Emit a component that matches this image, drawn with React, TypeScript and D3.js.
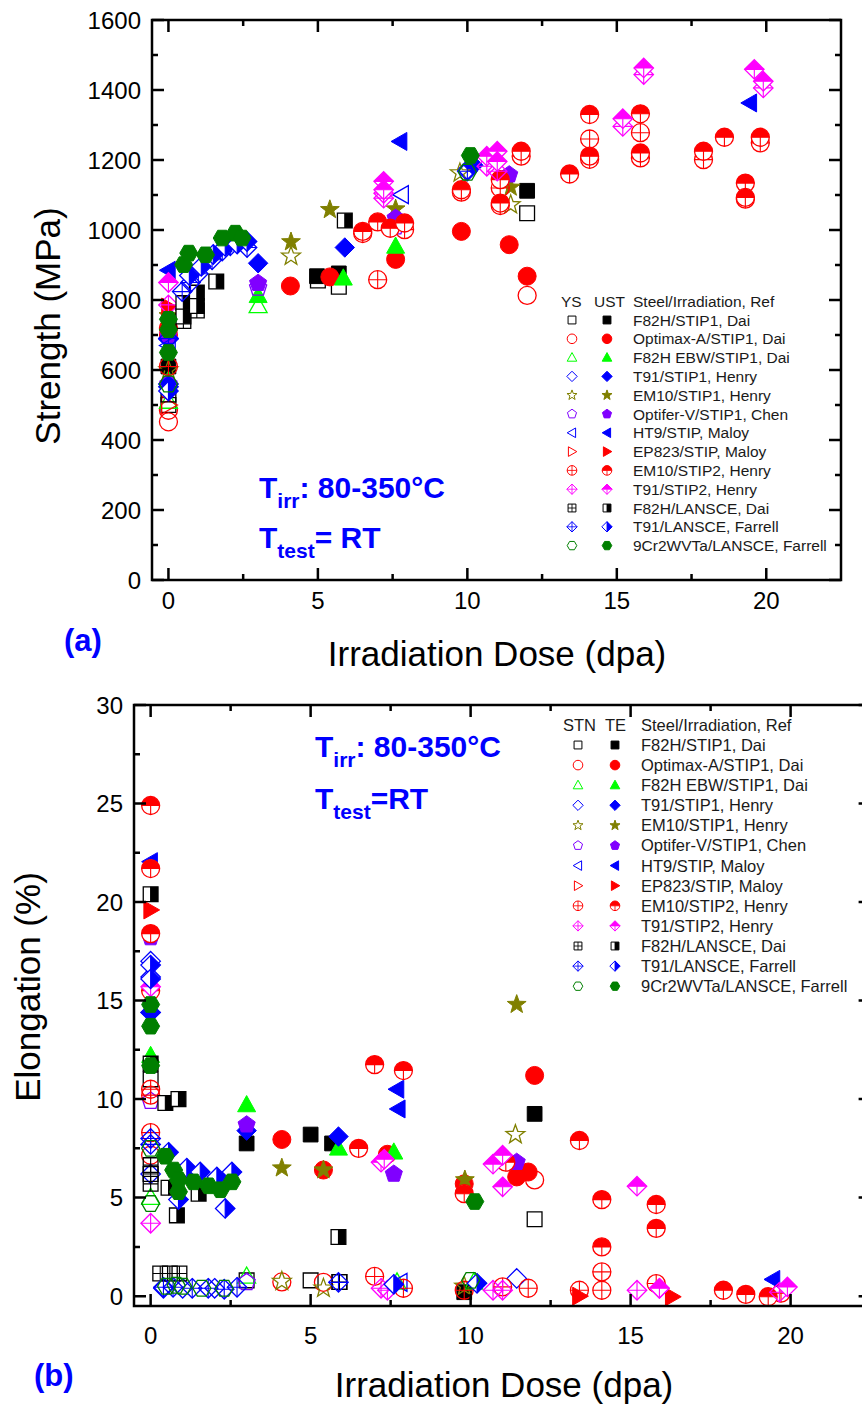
import * as d3 from "d3";

type Pt = [number, number];

// ---- panel (a): yield stress (YS) and ultimate strength (UST), MPa vs dose (dpa)
const ysF82H: Pt[] = [[0, 500], [5.0, 856], [5.7, 838], [12.0, 1048]];
const ustF82H: Pt[] = [[0, 610], [4.97, 868], [5.7, 876], [12.0, 1112]];
const ysOptimax: Pt[] = [[0, 452], [0, 485], [12.0, 813]];
const ustOptimax: Pt[] = [[0, 700], [4.08, 840], [5.4, 866], [7.6, 916], [9.8, 996], [11.4, 958], [12.0, 868]];
const ysEBW: Pt[] = [[0, 510], [3.0, 783]];
const ustEBW: Pt[] = [[0, 570], [3.0, 812], [5.85, 862], [7.6, 953]];
const ysT91: Pt[] = [[0, 560], [0, 690], [10.0, 1172]];
const ustT91: Pt[] = [[0, 560], [0, 688], [3.0, 905], [5.9, 950], [10.2, 1185]];
const ysEM10: Pt[] = [[0, 600], [4.1, 925], [9.75, 1163], [11.45, 1072]];
const ustEM10: Pt[] = [[0, 755], [4.1, 966], [5.4, 1058], [7.6, 1060], [11.45, 1122]];
const ysOptifer: Pt[] = [[0, 560], [3.0, 835], [7.6, 1010]];
const ustOptifer: Pt[] = [[0, 700], [3.0, 848], [7.6, 1034], [11.4, 1158]];
const ysHT9: Pt[] = [[0, 670], [7.8, 1101]];
const ustHT9: Pt[] = [[0, 885], [7.75, 1253], [19.45, 1363]];
const ysEP823: Pt[] = [[0, 500]];
const ustEP823: Pt[] = [[0, 780]];
const ysEM10b: Pt[] = [[0, 610], [6.5, 990], [7.0, 858], [7.9, 1001], [9.8, 1108], [11.1, 1070], [11.1, 1120], [11.8, 1211],
  [14.09, 1260], [14.09, 1202], [15.79, 1278], [15.79, 1206], [17.9, 1201], [19.3, 1088], [19.8, 1249]];
const ustEM10b: Pt[] = [[0, 720], [6.5, 996], [7.0, 1023], [7.42, 1005], [7.9, 1020], [9.8, 1115], [11.1, 1144], [11.1, 1077],
  [11.8, 1225], [13.42, 1160], [14.09, 1330], [14.09, 1211], [15.79, 1332], [15.79, 1220], [17.9, 1225], [18.6, 1265],
  [19.3, 1134], [19.3, 1093], [19.8, 1265]];
const ysT91b: Pt[] = [[0, 786], [7.2, 1091], [7.2, 1105], [10.65, 1182], [11.0, 1168], [15.2, 1296], [15.9, 1444], [19.9, 1406]];
const ustT91b: Pt[] = [[0, 850], [7.2, 1139], [7.2, 1115], [10.65, 1211], [11.0, 1225], [11.0, 1196], [15.2, 1318],
  [15.9, 1463], [19.6, 1459], [19.9, 1425]];
const ysF82HL: Pt[] = [[0, 530], [0.5, 740], [0.95, 770]];
const ustF82HL: Pt[] = [[0.5, 791], [0.5, 753], [0.95, 821], [0.95, 783], [1.6, 853], [5.9, 1027]];
const ysT91L: Pt[] = [[0, 552], [0, 690], [0.46, 824], [0.74, 850], [1.0, 875], [1.46, 915], [1.8, 940], [2.07, 955],
  [2.63, 950], [10.0, 1168]];
const ustT91L: Pt[] = [[0, 540], [0.7, 870], [1.1, 896], [1.5, 930], [1.9, 953], [2.3, 960], [2.63, 967]];
const ys9Cr: Pt[] = [[0, 560], [10.0, 1165]];
const ust9Cr: Pt[] = [[0, 650], [0, 715], [0, 745], [0.51, 901], [0.68, 934], [1.24, 929], [1.8, 977], [2.24, 991],
  [2.46, 977], [10.1, 1213]];

// ---- panel (b): strain to necking (STN) and total elongation (TE), % vs dose (dpa)
const stnF82H: Pt[] = [[0, 11.0], [3.0, 0.8], [5.0, 0.8], [5.9, 0.72], [12.0, 3.9]];
const teF82H: Pt[] = [[3.0, 7.75], [5.0, 8.2], [5.67, 7.75], [9.8, 0.2], [12.0, 9.25]];
const stnOptimax: Pt[] = [[0, 7.15], [4.1, 0.72], [5.4, 0.7], [12.0, 5.9]];
const teOptimax: Pt[] = [[4.1, 7.95], [5.4, 6.4], [7.4, 7.2], [9.8, 5.7], [11.44, 6.05], [11.8, 6.3], [12.0, 11.2]];
const stnEBW: Pt[] = [[0, 5.0], [3.0, 1.0], [7.7, 0.7], [10.1, 0.7]];
const teEBW: Pt[] = [[0, 12.2], [3.0, 9.7], [5.87, 7.5], [7.6, 7.3]];
const stnT91: Pt[] = [[0, 17.0], [0, 16.2], [0, 6.2], [0.4, 0.4], [1.0, 0.4], [2.0, 0.4], [11.44, 0.9]];
const teT91: Pt[] = [[0, 14.4], [3.0, 8.4], [5.87, 8.1]];
const stnEM10: Pt[] = [[4.1, 0.75], [5.4, 0.4], [9.8, 0.5], [11.4, 8.2]];
const teEM10: Pt[] = [[4.1, 6.5], [5.4, 6.4], [9.82, 5.9], [11.44, 14.8]];
const stnOptifer: Pt[] = [[0, 9.9], [3.0, 0.7]];
const teOptifer: Pt[] = [[0, 18.2], [3.0, 8.7], [7.6, 6.2], [11.44, 6.8]];
const stnHT9: Pt[] = [[7.8, 0.7]];
const teHT9: Pt[] = [[0, 22.05], [7.7, 10.5], [7.74, 9.5], [19.45, 0.85]];
const stnEP823: Pt[] = [];
const teEP823: Pt[] = [[0, 19.6], [13.4, 0.0], [16.3, -0.03]];
const stnEM10b: Pt[] = [[0, 10.5], [0, 10.2], [0, 8.3], [7.0, 1.0], [7.9, 0.4], [9.8, 0.3], [11.0, 0.47], [11.8, 0.4],
  [13.4, 0.3], [14.1, 1.23], [14.1, 0.3], [15.8, 0.64], [19.7, 0.15]];
const teEM10b: Pt[] = [[0, 24.9], [0, 21.7], [0, 18.4], [0, 15.5], [6.5, 7.5], [7.0, 11.75], [7.9, 11.45], [9.8, 5.2],
  [11.1, 6.8], [13.4, 7.9], [14.1, 4.9], [14.1, 2.5], [15.8, 4.65], [15.8, 3.44], [17.9, 0.3], [18.6, 0.09], [19.3, -0.03]];
const stnT91b: Pt[] = [[0, 3.7], [7.2, 0.4], [7.4, 0.3], [10.7, 0.3], [11.0, 0.3], [15.2, 0.3], [15.9, 0.4], [19.65, 0.2]];
const teT91b: Pt[] = [[0, 15.7], [7.2, 6.8], [7.3, 6.95], [10.7, 6.7], [11.0, 7.15], [11.0, 5.55], [15.2, 5.58], [15.9, 0.4],
  [19.9, 0.47]];
const stnF82HL: Pt[] = [[0, 6.65], [0, 6.2], [0, 5.7], [0.3, 1.15], [0.6, 1.15], [0.9, 1.15], [5.9, 0.72]];
const teF82HL: Pt[] = [[0, 20.4], [0, 11.8], [0.46, 9.8], [0.87, 10.0], [0.56, 5.5], [0.82, 4.1], [1.5, 5.2], [5.87, 3.0]];
const stnT91L: Pt[] = [[0, 14.4], [0, 8.0], [0, 7.7], [0.4, 0.45], [0.7, 0.45], [1.3, 0.4], [1.8, 0.4], [2.3, 0.35],
  [2.7, 0.45], [5.87, 0.7]];
const teT91L: Pt[] = [[0, 16.8], [0, 16.1], [0.56, 7.3], [0.87, 4.9], [1.13, 6.5], [1.55, 6.3], [2.07, 6.05], [2.33, 4.45],
  [2.54, 6.3], [7.6, 0.6], [10.2, 0.65]];
const stn9Cr: Pt[] = [[0, 4.7], [0, 7.5], [0.5, 0.5], [0.8, 0.55], [1.0, 0.5], [1.6, 0.4], [2.3, 0.4], [10.0, 0.8]];
const te9Cr: Pt[] = [[0, 14.8], [0, 13.7], [0, 11.7], [0.46, 7.1], [0.72, 6.4], [0.87, 5.9], [0.87, 5.3], [1.34, 5.8],
  [1.81, 5.6], [2.18, 5.4], [2.54, 5.8], [10.13, 4.8]];

const steelNames = [
  "F82H/STIP1, Dai", "Optimax-A/STIP1, Dai", "F82H EBW/STIP1, Dai", "T91/STIP1, Henry", "EM10/STIP1, Henry",
  "Optifer-V/STIP1, Chen", "HT9/STIP, Maloy", "EP823/STIP, Maloy", "EM10/STIP2, Henry", "T91/STIP2, Henry",
  "F82H/LANSCE, Dai", "T91/LANSCE, Farrell", "9Cr2WVTa/LANSCE, Farrell",
];

const doseMajor = [0, 5, 10, 15, 20];
const doseMinor = [2.5, 7.5, 12.5, 17.5];
const strengthMajor = [0, 200, 400, 600, 800, 1000, 1200, 1400, 1600];
const strengthMinor = [100, 300, 500, 700, 900, 1100, 1300, 1500];
const elongMajor = [0, 5, 10, 15, 20, 25, 30];
const elongMinor = [2.5, 7.5, 12.5, 17.5, 22.5, 27.5];

type Style = "open" | "filled" | "cross" | "halfTop" | "halfRight";
type Steel = { name: string; shape: string; color: string; st: [Style, Style]; a: [Pt[], Pt[]]; b: [Pt[], Pt[]] };

const steels: Steel[] = [
  { name: steelNames[0], shape: "square", color: "#000000", st: ["open", "filled"], a: [ysF82H, ustF82H], b: [stnF82H, teF82H] },
  { name: steelNames[1], shape: "circle", color: "#ff0000", st: ["open", "filled"], a: [ysOptimax, ustOptimax], b: [stnOptimax, teOptimax] },
  { name: steelNames[2], shape: "triangle", color: "#00ff00", st: ["open", "filled"], a: [ysEBW, ustEBW], b: [stnEBW, teEBW] },
  { name: steelNames[3], shape: "diamond", color: "#0000ff", st: ["open", "filled"], a: [ysT91, ustT91], b: [stnT91, teT91] },
  { name: steelNames[4], shape: "star", color: "#808000", st: ["open", "filled"], a: [ysEM10, ustEM10], b: [stnEM10, teEM10] },
  { name: steelNames[5], shape: "pentagon", color: "#8000ff", st: ["open", "filled"], a: [ysOptifer, ustOptifer], b: [stnOptifer, teOptifer] },
  { name: steelNames[6], shape: "left", color: "#0000ff", st: ["open", "filled"], a: [ysHT9, ustHT9], b: [stnHT9, teHT9] },
  { name: steelNames[7], shape: "right", color: "#ff0000", st: ["open", "filled"], a: [ysEP823, ustEP823], b: [stnEP823, teEP823] },
  { name: steelNames[8], shape: "circle", color: "#ff0000", st: ["cross", "halfTop"], a: [ysEM10b, ustEM10b], b: [stnEM10b, teEM10b] },
  { name: steelNames[9], shape: "diamond", color: "#ff00ff", st: ["cross", "halfTop"], a: [ysT91b, ustT91b], b: [stnT91b, teT91b] },
  { name: steelNames[10], shape: "square", color: "#000000", st: ["cross", "halfRight"], a: [ysF82HL, ustF82HL], b: [stnF82HL, teF82HL] },
  { name: steelNames[11], shape: "diamond", color: "#0000ff", st: ["cross", "halfRight"], a: [ysT91L, ustT91L], b: [stnT91L, teT91L] },
  { name: steelNames[12], shape: "hexagon", color: "#007f00", st: ["open", "filled"], a: [ys9Cr, ust9Cr], b: [stn9Cr, te9Cr] },
];

const FONT = "'Liberation Sans', Arial, Helvetica, sans-serif";
const BLUE = "#0000ff";

const poly = (pts: Pt[]) => d3.line().curve(d3.curveLinearClosed)(pts) || "";
const ring = (n: number, r: number, start: number, inner = 0): Pt[] =>
  d3.range(inner ? n * 2 : n).map(i => {
    const k = inner ? n * 2 : n;
    const a = start + (i * 2 * Math.PI) / k;
    const rr = inner && i % 2 ? inner : r;
    return [rr * Math.cos(a), rr * Math.sin(a)] as Pt;
  });

function outline(shape: string, r: number): string {
  const s = r * 0.82, d = r * 1.08;
  switch (shape) {
    case "circle": return `M${-r},0A${r},${r} 0 1,0 ${r},0A${r},${r} 0 1,0 ${-r},0Z`;
    case "square": return poly([[-s, -s], [s, -s], [s, s], [-s, s]]);
    case "diamond": return poly([[0, -d], [d, 0], [0, d], [-d, 0]]);
    case "triangle": return poly([[0, -r * 1.05], [r, r * 0.75], [-r, r * 0.75]]);
    case "left": return poly([[-r, 0], [r * 0.75, -r], [r * 0.75, r]]);
    case "right": return poly([[r, 0], [-r * 0.75, -r], [-r * 0.75, r]]);
    case "pentagon": return poly(ring(5, r, -Math.PI / 2));
    case "hexagon": return poly(ring(6, r, 0));
    case "star": return poly(ring(5, r * 1.1, -Math.PI / 2, r * 0.45));
  }
  return "";
}

function extent(shape: string, r: number) {
  return shape === "square" ? r * 0.82 : shape === "diamond" ? r * 1.08 : r;
}

function Marker({ x, y, r, shape, style, color }: { x: number; y: number; r: number; shape: string; style: Style; color: string }) {
  const o = outline(shape, r);
  const e = extent(shape, r);
  const sw = r > 6 ? 1.3 : 1;
  let half = "";
  let extra = "";
  if (style === "halfTop") {
    half = shape === "circle" ? `M${-e},0A${e},${e} 0 0,1 ${e},0Z` : poly([[-e, 0], [0, -e], [e, 0]]);
    extra = `M${-e},0H${e}M0,0V${e}`;
  }
  if (style === "halfRight") {
    half = shape === "square" ? poly([[0, -e], [e, -e], [e, e], [0, e]]) : poly([[0, -e], [e, 0], [0, e]]);
    extra = `M0,${-e}V${e}`;
  }
  return (
    <g transform={`translate(${x},${y})`}>
      {style === "filled" && <path d={o} fill={color} stroke={color} strokeWidth={1} />}
      {style === "open" && <path d={o} fill="none" stroke={color} strokeWidth={sw} />}
      {style === "cross" && (
        <>
          <path d={o} fill="none" stroke={color} strokeWidth={sw} />
          <path d={`M${-e},0H${e}M0,${-e}V${e}`} stroke={color} strokeWidth={sw * 0.85} />
        </>
      )}
      {(style === "halfTop" || style === "halfRight") && (
        <>
          <path d={o} fill="#ffffff" />
          <path d={half} fill={color} />
          <path d={extra} stroke={color} strokeWidth={sw * 0.85} />
          <path d={o} fill="none" stroke={color} strokeWidth={sw} />
        </>
      )}
    </g>
  );
}

type Lin = d3.ScaleLinear<number, number>;

function Frame({ xs, ys, yMajor, yMinor, xLabY, yLabX }: { xs: Lin; ys: Lin; yMajor: number[]; yMinor: number[]; xLabY: number; yLabX: number }) {
  const [x0, x1] = xs.range();
  const [y0, y1] = ys.range();
  const M = 12, m = 6;
  let d = "";
  doseMajor.forEach(v => { const p = xs(v); d += `M${p},${y0}V${y0 - M}M${p},${y1}V${y1 + M}`; });
  doseMinor.forEach(v => { const p = xs(v); d += `M${p},${y0}V${y0 - m}M${p},${y1}V${y1 + m}`; });
  yMajor.forEach(v => { const p = ys(v); d += `M${x0},${p}H${x0 + M}M${x1},${p}H${x1 - M}`; });
  yMinor.forEach(v => { const p = ys(v); d += `M${x0},${p}H${x0 + m}M${x1},${p}H${x1 - m}`; });
  return (
    <g fontFamily={FONT}>
      <path d={d} stroke="#000" strokeWidth={2.5} fill="none" />
      <rect x={x0} y={y1} width={x1 - x0} height={y0 - y1} fill="none" stroke="#000" strokeWidth={2.5} />
      {doseMajor.map(v => (
        <text key={v} x={xs(v)} y={xLabY} textAnchor="middle" fontSize={24}>{v}</text>
      ))}
      {yMajor.map(v => (
        <text key={v} x={yLabX} y={ys(v)} dy="0.36em" textAnchor="end" fontSize={24}>{v}</text>
      ))}
    </g>
  );
}

function Points({ xs, ys, panel, r }: { xs: Lin; ys: Lin; panel: "a" | "b"; r: number }) {
  return (
    <g>
      {steels.map((s, i) => (
        <g key={i}>
          {[0, 1].map(k =>
            s[panel][k].map((p, j) => (
              <Marker key={`${k}-${j}`} x={xs(p[0])} y={ys(p[1])} r={r} shape={s.shape} style={s.st[k]} color={s.color} />
            ))
          )}
        </g>
      ))}
    </g>
  );
}

function Legend({ c1, c2, tx, top, step, heads, fs }: { c1: number; c2: number; tx: number; top: number; step: number; heads: [number, string][]; fs: number }) {
  return (
    <g fontFamily={FONT} fontSize={fs} fill="#1a1a1a">
      {heads.map(([hx, t]) => (
        <text key={t} x={hx} y={top - step} dy="0.36em">{t}</text>
      ))}
      <text x={tx} y={top - step} dy="0.36em">Steel/Irradiation, Ref</text>
      {steels.map((s, i) => {
        const y = top + i * step;
        return (
          <g key={i}>
            <Marker x={c1} y={y} r={4.8} shape={s.shape} style={s.st[0]} color={s.color} />
            <Marker x={c2} y={y} r={4.8} shape={s.shape} style={s.st[1]} color={s.color} />
            <text x={tx} y={y} dy="0.36em">{s.name}</text>
          </g>
        );
      })}
    </g>
  );
}

export default function App() {
  const xA = d3.scaleLinear().domain([-0.55, 22.5]).range([152, 841]);
  const yA = d3.scaleLinear().domain([0, 1600]).range([580, 20]);
  const xB = d3.scaleLinear().domain([-0.52, 22.5]).range([134, 870.6]);
  const yB = d3.scaleLinear().domain([-0.5, 30]).range([1306, 705]);

  return (
    <svg width={862} height={1408} style={{ position: "absolute", left: 0, top: 0, background: "#fff" }} fontFamily={FONT}>
      <rect width={862} height={1408} fill="#fff" />

      {/* panel (a) */}
      <Points xs={xA} ys={yA} panel="a" r={9} />
      <Frame xs={xA} ys={yA} yMajor={strengthMajor} yMinor={strengthMinor} xLabY={609} yLabX={141} />
      <Legend c1={572} c2={607} tx={633} top={320} step={18.8} heads={[[561, "YS"], [594, "UST"]]} fs={15.5} />
      <text x={497} y={666} textAnchor="middle" fontSize={35}>Irradiation Dose (dpa)</text>
      <text transform="translate(60,326) rotate(-90)" textAnchor="middle" fontSize={35}>Strength (MPa)</text>
      <text x={64} y={651} fill={BLUE} fontWeight="bold" fontSize={31}>(a)</text>
      <g fill={BLUE} fontWeight="bold" fontSize={30}>
        <text x={259} y={498}>T<tspan fontSize={21} dy={10}>irr</tspan><tspan dy={-10}>: 80-350°C</tspan></text>
        <text x={259} y={548}>T<tspan fontSize={21} dy={10}>test</tspan><tspan dy={-10}>= RT</tspan></text>
      </g>

      {/* panel (b) */}
      <Points xs={xB} ys={yB} panel="b" r={9} />
      <Frame xs={xB} ys={yB} yMajor={elongMajor} yMinor={elongMinor} xLabY={1344} yLabX={123} />
      <Legend c1={578} c2={615} tx={641} top={745} step={20.1} heads={[[563, "STN"], [605, "TE"]]} fs={16.5} />
      <text x={504} y={1397} textAnchor="middle" fontSize={35}>Irradiation Dose (dpa)</text>
      <text transform="translate(40,987) rotate(-90)" textAnchor="middle" fontSize={35}>Elongation (%)</text>
      <text x={34} y={1386} fill={BLUE} fontWeight="bold" fontSize={31}>(b)</text>
      <g fill={BLUE} fontWeight="bold" fontSize={30}>
        <text x={315} y={757}>T<tspan fontSize={21} dy={10}>irr</tspan><tspan dy={-10}>: 80-350°C</tspan></text>
        <text x={315} y={809}>T<tspan fontSize={21} dy={10}>test</tspan><tspan dy={-10}>=RT</tspan></text>
      </g>
    </svg>
  );
}
